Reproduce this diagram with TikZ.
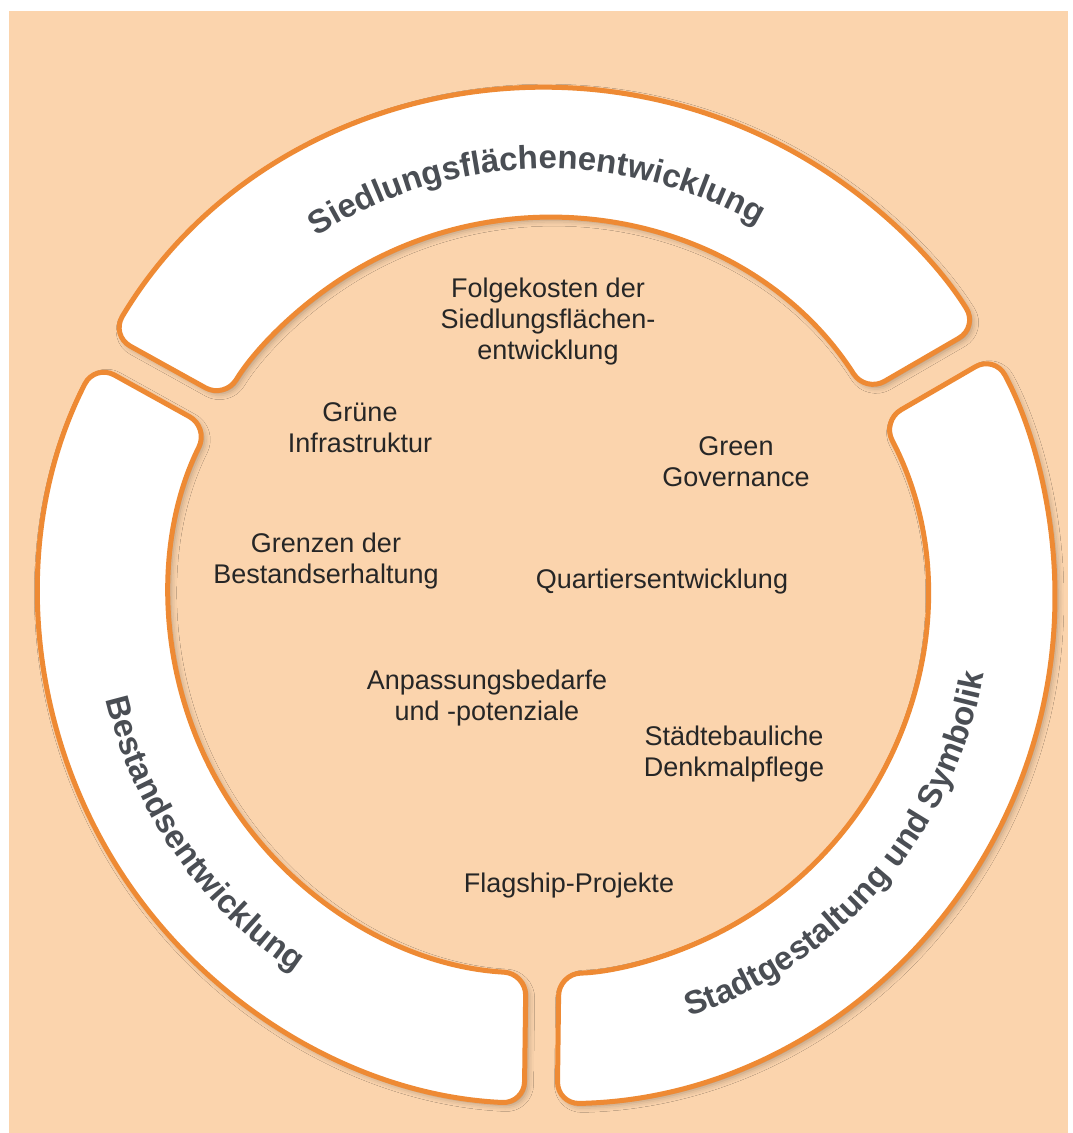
\documentclass[tikz,border=0pt]{standalone}
\usepackage{fontspec}
\setmainfont{Liberation Sans}
\usetikzlibrary{decorations.text,shadows.blur}
\definecolor{peach}{HTML}{FBD4AD}
\definecolor{ringorange}{HTML}{EE8A34}
\definecolor{labelgray}{HTML}{4A4E54}
\definecolor{inktext}{HTML}{262626}
\begin{document}
\begin{tikzpicture}[x=1pt,y=1pt,
  seg/.style={fill=white, draw=ringorange, line width=5pt, rounded corners=22pt,
    blur shadow={shadow xshift=3pt, shadow yshift=-3pt, shadow blur radius=6pt, shadow opacity=30}},
  inner/.style={font=\fontsize{27}{31}\selectfont, text=inktext, align=center, anchor=base, inner sep=0pt},
  ringtext/.style={decorate, decoration={text along path, text align=center,
    text={|\fontsize{33}{33}\selectfont\bfseries\color{labelgray}|#1}}}
]
\useasboundingbox (0,0) rectangle (1072,1133);
\fill[white] (0,0) rectangle (1072,1133);
\fill[peach] (9,0) rectangle (1068,1122);
\begin{scope}[shift={(547,537)}]
  % top segment
  \path[seg] (149.14:508) arc[start angle=149.14, end angle=31.96, radius=508]
     -- (32.6:378) arc[start angle=32.6, end angle=148.5, radius=378] -- cycle;
  % left segment
  \path[seg] (152.86:508) arc[start angle=152.86, end angle=267.44, radius=508]
     -- (266.8:378) arc[start angle=266.8, end angle=153.5, radius=378] -- cycle;
  % right segment
  \path[seg] (271.16:508) arc[start angle=271.16, end angle=388.24, radius=508]
     -- (387.6:378) arc[start angle=387.6, end angle=271.8, radius=378] -- cycle;
  % ring labels
  \path[ringtext={Siedlungsflächenentwicklung}] (151.5:427) arc[start angle=151.5, end angle=31.5, radius=427];
  \path[ringtext={Bestandsentwicklung}] (174.7:453) arc[start angle=174.7, end angle=254.7, radius=453];
  \path[ringtext={Stadtgestaltung und Symbolik}] (274.3:444) arc[start angle=274.3, end angle=364.3, radius=444];
\end{scope}
% anchor=base of a multi-line node is the baseline of its last line
\node[inner] (folge) at (548,773) {Folgekosten der\\Siedlungsflächen-\\entwicklung};
\node[inner] (gruene) at (360,680) {Grüne\\Infrastruktur};
\node[inner] (green) at (736,646) {Green\\Governance};
\node[inner] (grenzen) at (326,549) {Grenzen der\\Bestandserhaltung};
\node[inner] (quartier) at (662,544) {Quartiersentwicklung};
\node[inner] (anpass) at (487,412) {Anpassungsbedarfe\\und -potenziale};
\node[inner] (staedte) at (734,356) {Städtebauliche\\Denkmalpflege};
\node[inner] (flagship) at (569,240) {Flagship-Projekte};
\end{tikzpicture}
\end{document}
